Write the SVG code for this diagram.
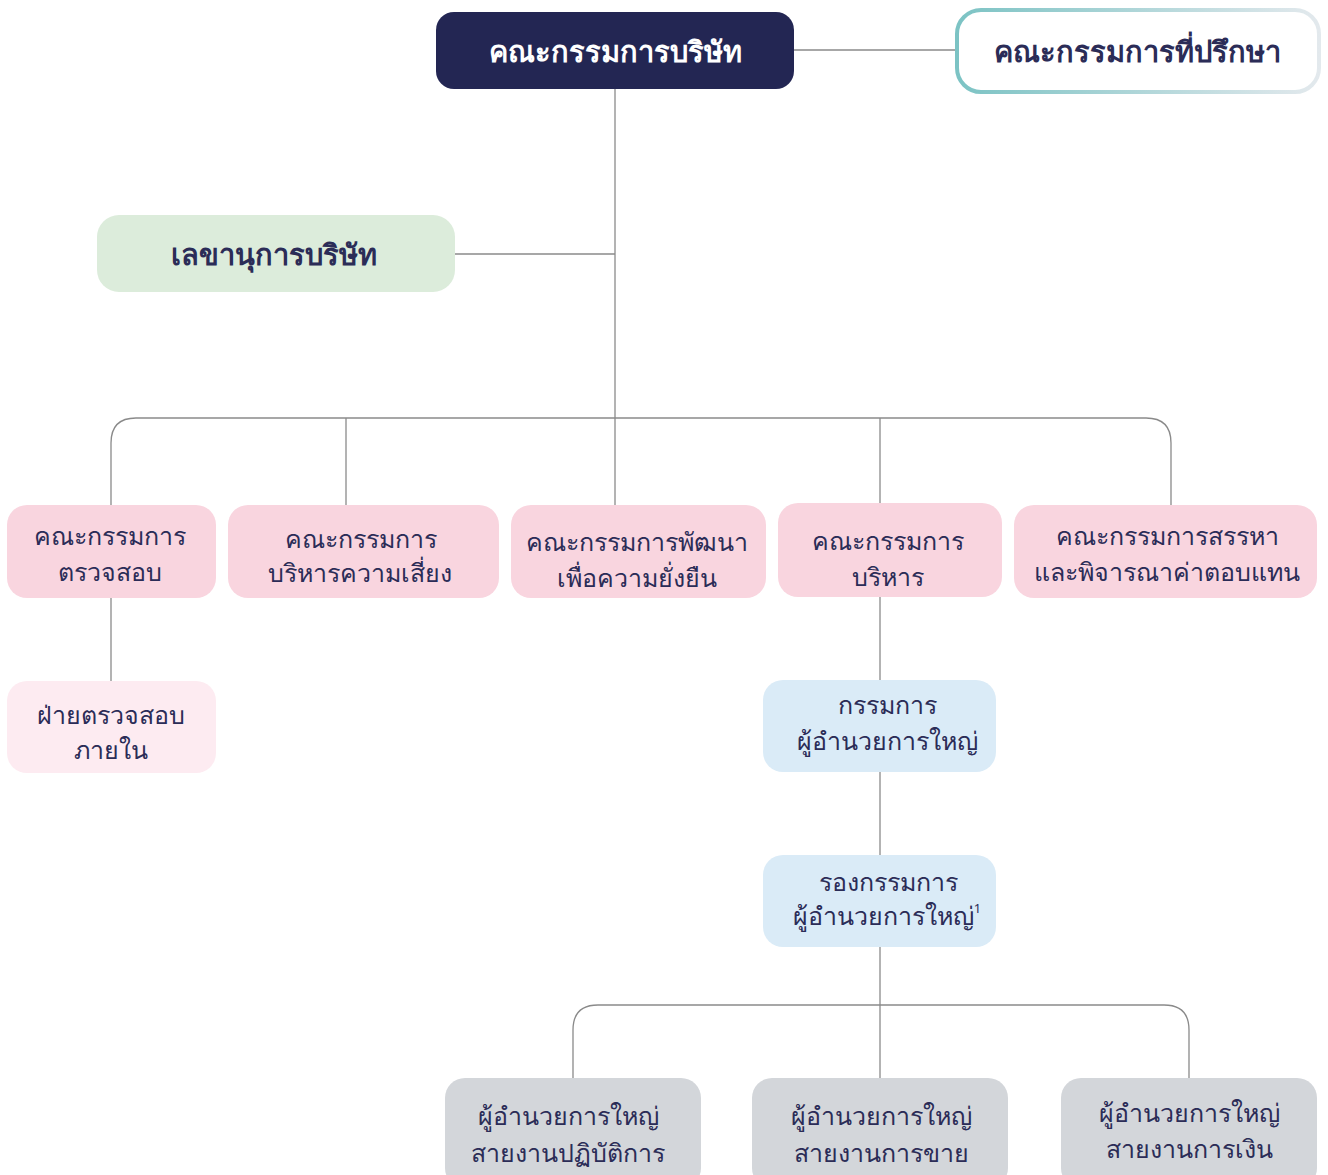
<svg xmlns="http://www.w3.org/2000/svg" width="1328" height="1175" viewBox="0 0 1328 1175">
<defs>
<linearGradient id="advGrad" x1="0" y1="0" x2="1" y2="0">
<stop offset="0" stop-color="#7cc3c4"/>
<stop offset="1" stop-color="#e3e9ed"/>
</linearGradient>
<style>
.t{font-family:"Noto Sans","DejaVu Sans",sans-serif;fill:#2b2c57;text-anchor:middle;font-size:25px}
.tb{font-family:"Noto Sans","DejaVu Sans",sans-serif;text-anchor:middle;font-size:29px;font-weight:bold}
.c{fill:none;stroke:#8a8a8a;stroke-width:1.3}
.pink{fill:#f9d5df}
.lpink{fill:#fdebf1}
.blue{fill:#daebf7}
.gray{fill:#d3d6da}
</style>
</defs>
<rect width="1328" height="1175" fill="#ffffff"/>
<g id="connectors">
<path class="c" d="M794 50H956"/>
<path class="c" d="M615 89V418"/>
<path class="c" d="M455 254H615"/>
<path class="c" d="M111 505V443Q111 418 136 418H1146Q1171 418 1171 443V505"/>
<path class="c" d="M346 418V505"/>
<path class="c" d="M615 418V505"/>
<path class="c" d="M880 418V504"/>
<path class="c" d="M111 598V681"/>
<path class="c" d="M880 597V855"/>
<path class="c" d="M880 947V1078"/>
<path class="c" d="M573 1078V1030Q573 1005 598 1005H1164Q1189 1005 1189 1030V1078"/>
</g>
<g id="board">
<rect x="436" y="12" width="358" height="77" rx="18" fill="#232653"/>
<text class="tb" x="615" y="62" fill="#ffffff">คณะกรรมการบริษัท</text>
</g>
<g id="advisory">
<rect x="957" y="10" width="362" height="82" rx="24" fill="#ffffff" stroke="url(#advGrad)" stroke-width="4"/>
<text class="tb" x="1137" y="62" fill="#2b2c57">คณะกรรมการที่ปรึกษา</text>
</g>
<g id="secretary">
<rect x="97" y="215" width="358" height="77" rx="22" fill="#dcecdb"/>
<text class="tb" x="274" y="265" fill="#2b2c57">เลขานุการบริษัท</text>
</g>
<g id="audit-committee">
<rect class="pink" x="7" y="505" width="209" height="93" rx="20"/>
<text class="t" x="110" y="545">คณะกรรมการ</text>
<text class="t" x="110" y="581">ตรวจสอบ</text>
</g>
<g id="risk-committee">
<rect class="pink" x="228" y="505" width="271" height="93" rx="20"/>
<text class="t" x="361" y="548">คณะกรรมการ</text>
<text class="t" x="360" y="582">บริหารความเสี่ยง</text>
</g>
<g id="sustainability-committee">
<rect class="pink" x="511" y="505" width="255" height="93" rx="20"/>
<text class="t" x="637" y="551">คณะกรรมการพัฒนา</text>
<text class="t" x="637" y="587">เพื่อความยั่งยืน</text>
</g>
<g id="executive-committee">
<rect class="pink" x="778" y="503" width="224" height="94" rx="20"/>
<text class="t" x="888" y="550">คณะกรรมการ</text>
<text class="t" x="888" y="586">บริหาร</text>
</g>
<g id="nomination-committee">
<rect class="pink" x="1014" y="505" width="303" height="93" rx="20"/>
<text class="t" x="1167" y="545">คณะกรรมการสรรหา</text>
<text class="t" x="1167" y="581">และพิจารณาค่าตอบแทน</text>
</g>
<g id="internal-audit">
<rect class="lpink" x="7" y="681" width="209" height="92" rx="20"/>
<text class="t" x="111" y="724">ฝ่ายตรวจสอบ</text>
<text class="t" x="111" y="759">ภายใน</text>
</g>
<g id="ceo">
<rect class="blue" x="763" y="680" width="233" height="92" rx="20"/>
<text class="t" x="887" y="714">กรรมการ</text>
<text class="t" x="887" y="750">ผู้อำนวยการใหญ่</text>
</g>
<g id="deputy-ceo">
<rect class="blue" x="763" y="855" width="233" height="92" rx="20"/>
<text class="t" x="888" y="891">รองกรรมการ</text>
<text class="t" x="887" y="925">ผู้อำนวยการใหญ่<tspan font-size="13" dy="-12">1</tspan></text>
</g>
<g id="md-operations">
<rect class="gray" x="445" y="1078" width="256" height="110" rx="20"/>
<text class="t" x="568" y="1125">ผู้อำนวยการใหญ่</text>
<text class="t" x="568" y="1162">สายงานปฏิบัติการ</text>
</g>
<g id="md-sales">
<rect class="gray" x="752" y="1078" width="256" height="110" rx="20"/>
<text class="t" x="881" y="1125">ผู้อำนวยการใหญ่</text>
<text class="t" x="881" y="1162">สายงานการขาย</text>
</g>
<g id="md-finance">
<rect class="gray" x="1061" y="1078" width="256" height="110" rx="20"/>
<text class="t" x="1189" y="1122">ผู้อำนวยการใหญ่</text>
<text class="t" x="1189" y="1158">สายงานการเงิน</text>
</g>
</svg>
